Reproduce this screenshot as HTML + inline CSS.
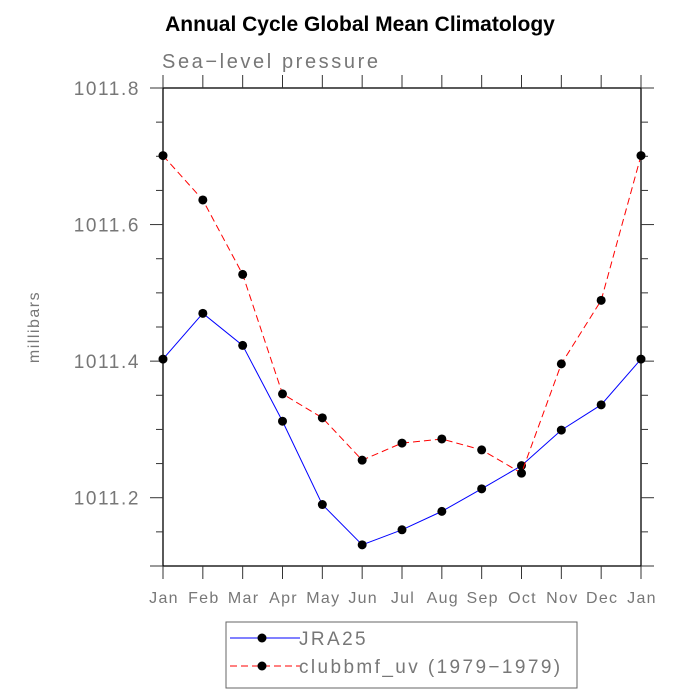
<!DOCTYPE html>
<html><head><meta charset="utf-8"><style>
body{margin:0;background:#fff}
svg{display:block}
text{font-family:"Liberation Sans",sans-serif}
</style></head><body>
<svg id="chart" width="700" height="700" viewBox="0 0 700 700">
<text x="360" y="31" text-anchor="middle" font-size="21" font-weight="bold" fill="#000">Annual Cycle Global Mean Climatology</text>
<text x="162" y="68" font-size="20" fill="#777" letter-spacing="2.6">Sea−level pressure</text>
<text transform="translate(39,327) rotate(-90)" text-anchor="middle" font-size="16" fill="#777" letter-spacing="1.5">millibars</text>
<g id="axes"></g>
<g id="series"></g>
<g>
<rect x="226" y="622" width="351" height="66" fill="none" stroke="#666" stroke-width="1"/>
<line x1="230" y1="638" x2="300" y2="638" stroke="#00f" stroke-width="1"/>
<circle cx="262" cy="638" r="4.5" fill="#000"/>
<text x="299" y="645" font-size="19" fill="#777" letter-spacing="2.4">JRA25</text>
<line x1="230" y1="666" x2="300" y2="666" stroke="#f00" stroke-width="1" stroke-dasharray="7,4"/>
<circle cx="262" cy="666" r="4.5" fill="#000"/>
<text x="299" y="673" font-size="19" fill="#777" letter-spacing="2.4">clubbmf_uv (1979−1979)</text>
</g>
</svg>
<script>
const months = ["Jan","Feb","Mar","Apr","May","Jun","Jul","Aug","Sep","Oct","Nov","Dec","Jan"];
const jra25 = [1011.403,1011.470,1011.423,1011.312,1011.190,1011.131,1011.153,1011.180,1011.213,1011.247,1011.299,1011.336,1011.403];
const clubb = [1011.701,1011.636,1011.527,1011.352,1011.317,1011.255,1011.280,1011.286,1011.270,1011.236,1011.396,1011.489,1011.701];
const yTickLabels = ["1011.2","1011.4","1011.6","1011.8"];
const yMin = 1011.1, yMax = 1011.8;
const L=163,R=641,T=88,B=566;
const NS="http://www.w3.org/2000/svg";
function xs(i){return L+(R-L)*i/(months.length-1);}
function ys(v){return B-(B-T)*(v-yMin)/(yMax-yMin);}
function mk(tag,attrs,parent){const e=document.createElementNS(NS,tag);for(const k in attrs)e.setAttribute(k,attrs[k]);parent.appendChild(e);return e;}
const ax=document.getElementById('axes');
const fr=mk('rect',{x:L,y:T,width:R-L,height:B-T,fill:'none',stroke:'#000','stroke-width':1.3},ax);


for(let k=0;k<=14;k++){
  const v=yMin+k*0.05, y=ys(v);
  const major = yTickLabels.some(s=>Math.abs(parseFloat(s)-v)<1e-6) || k===0;
  const len = major?13:7;
  const t1=mk('line',{x1:L-len,y1:y,x2:L,y2:y,stroke:'#333','stroke-width':1},ax);
  
  
  mk('line',{x1:R,y1:y,x2:R+len,y2:y,stroke:'#333','stroke-width':1},ax);
}
yTickLabels.forEach(s=>{
  const t=mk('text',{x:L-23,y:ys(parseFloat(s))+7,'text-anchor':'end','font-size':19,fill:'#777','letter-spacing':1.6},ax);
  t.textContent=s;
  
  
});
months.forEach((m,i)=>{
  const x=xs(i);
  mk('line',{x1:x,y1:B,x2:x,y2:B+13,stroke:'#333','stroke-width':1},ax);
  mk('line',{x1:x,y1:T-13,x2:x,y2:T,stroke:'#333','stroke-width':1},ax);
  const t=mk('text',{x:x+1,y:B+37,'text-anchor':'middle','font-size':16,fill:'#777','letter-spacing':1.3},ax);
  t.textContent=m;
  
  
});
const sg=document.getElementById('series');
function draw(vals,color,dash,name){
  const g=mk('g',{},sg);
  
  
  const pts=vals.map((v,i)=>xs(i)+','+ys(v)).join(' ');
  const a={points:pts,fill:'none',stroke:color,'stroke-width':1};
  if(dash)a['stroke-dasharray']=dash;
  mk('polyline',a,g);
  vals.forEach((v,i)=>{
    const c=mk('circle',{cx:xs(i),cy:ys(v),r:4.5,fill:'#000'},g);
    
    
  });
}
draw(jra25,'#00f',null,'series-jra25');
draw(clubb,'#f00','7,4','series-clubbmf');
</script>
</body></html>
